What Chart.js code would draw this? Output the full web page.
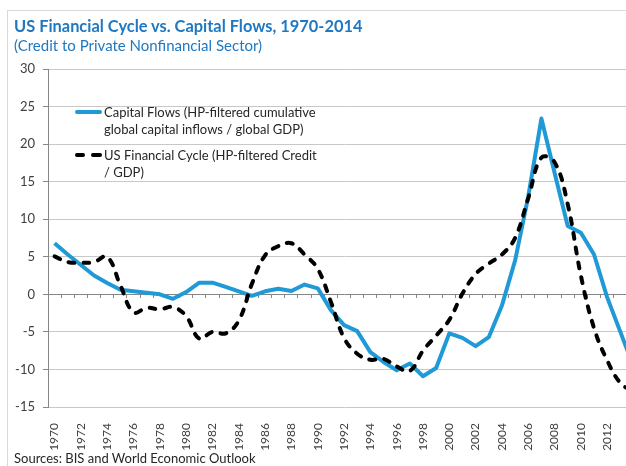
<!DOCTYPE html>
<html>
<head>
<meta charset="utf-8">
<script src="https://cdn.jsdelivr.net/npm/chart.js@4.4.1/dist/chart.umd.min.js"></script>
<style>
  html, body { margin: 0; padding: 0; width: 626px; height: 466px; overflow: hidden; background: #fff; font-family: Lato, "Liberation Sans", sans-serif; }
  #frame { position: absolute; left: 7px; top: 10px; width: 700px; height: 700px; border-left: 1px solid #d9d9d9; border-top: 1px solid #d9d9d9; }
  #chart { position: absolute; left: 0; top: 0; }
  .txt { position: absolute; white-space: nowrap; }
  #title { left: 14px; top: 16px; font-size: 16.4px; line-height: 20px; font-weight: bold; color: #1f78c1; }
  #subtitle { left: 14px; top: 36px; font-size: 15px; line-height: 19px; color: #1f78c1; }
  #source { left: 14px; top: 450px; font-size: 13px; line-height: 17px; color: #262626; }
  .leg { left: 104px; font-size: 13px; line-height: 17px; color: #262626; }
  .swatch { position: absolute; height: 4px; border-radius: 2px; }
</style>
</head>
<body>
<div id="frame"></div>
<canvas id="chart" width="656" height="466"></canvas>
<div id="title" class="txt">US Financial Cycle vs. Capital Flows, 1970-2014</div>
<div id="subtitle" class="txt">(Credit to Private Nonfinancial Sector)</div>
<div class="swatch" style="left:75px; top:110px; width:27px; background:#1f9ad7;"></div>
<div class="txt leg" style="top:104px;">Capital Flows (HP-filtered cumulative<br>global capital inflows / global GDP)</div>
<div class="swatch" style="left:75px; top:153px; width:10px; background:#000;"></div>
<div class="swatch" style="left:91px; top:153px; width:11px; background:#000;"></div>
<div class="txt leg" style="top:147px;">US Financial Cycle (HP-filtered Credit<br>/ GDP)</div>
<div id="source" class="txt">Sources: BIS and World Economic Outlook</div>
<script>
const years = ["1970","1971","1972","1973","1974","1975","1976","1977","1978","1979",
  "1980","1981","1982","1983","1984","1985","1986","1987","1988","1989",
  "1990","1991","1992","1993","1994","1995","1996","1997","1998","1999",
  "2000","2001","2002","2003","2004","2005","2006","2007","2008","2009",
  "2010","2011","2012","2013","2014"];

const capitalFlows = [6.8, 5.3, 3.9, 2.5, 1.5, 0.6, 0.4, 0.2, 0.0, -0.6,
  0.3, 1.55, 1.55, 1.0, 0.4, -0.2, 0.4, 0.75, 0.45, 1.3,
  0.8, -2.1, -4.1, -4.9, -7.7, -9.0, -10.1, -9.2, -10.9, -9.8,
  -5.2, -5.8, -6.9, -5.7, -1.5, 4.5, 13.0, 23.4, 16.2, 9.1,
  8.2, 5.3, -0.4, -5.0, -9.6];

const usFinancialCycle = [5.05, 4.3, 4.2, 4.3, 5.0, 1.2, -2.4, -1.8, -2.0, -1.7,
  -2.9, -5.9, -5.0, -5.2, -3.5, 1.4, 5.2, 6.4, 6.8, 5.3,
  3.4, -1.0, -5.8, -7.9, -8.7, -8.6, -9.6, -10.2, -7.5, -5.5,
  -3.4, 0.1, 2.7, 4.1, 5.3, 7.5, 12.8, 18.2, 17.6, 12.0,
  2.5, -4.5, -8.8, -11.8, -13.0];

const yMin = -15, yMax = 30, yStep = 5;

const blue = "#1f9ad7";
const axisGrey = "#868686";
const gridGrey = "#c8c8c8";
const labelColor = "#404040";

const ctx = document.getElementById("chart").getContext("2d");
const chart = new Chart(ctx, {
  type: "line",
  data: {
    labels: years,
    datasets: [{
      label: "US Financial Cycle (HP-filtered Credit / GDP)",
      data: usFinancialCycle,
      borderColor: "#000",
      borderWidth: 4,
      borderDash: [6, 9],
      borderCapStyle: "round",
      tension: 0.4,
      pointRadius: 0,
      fill: false,
      order: 0
    }, {
      label: "Capital Flows (HP-filtered cumulative global capital inflows / global GDP)",
      data: capitalFlows,
      borderColor: blue,
      borderWidth: 4,
      borderJoinStyle: "round",
      tension: 0,
      pointRadius: 0,
      fill: false,
      order: 1
    }]
  },
  options: {
    responsive: false,
    animation: false,
    devicePixelRatio: 1,
    layout: { padding: { top: 69, right: 9, bottom: 0, left: 0 } },
    plugins: {
      legend: { display: false },
      tooltip: { enabled: false }
    },
    scales: {
      x: {
        type: "category",
        offset: true,
        grid: { display: false },
        border: { display: false },
        ticks: {
          autoSkip: false,
          maxRotation: 90,
          minRotation: 90,
          padding: 8,
          color: labelColor,
          font: { family: "Lato", size: 12 },
          callback: function (v, i) {
            return i % 2 === 0 ? this.getLabelForValue(v) : "";
          }
        },
        afterFit: s => { s.height = 59; }
      },
      x2: {
        type: "category",
        axis: "x",
        offset: true,
        position: { y: 0 },
        grid: { drawOnChartArea: false, drawTicks: true, tickLength: 4, color: axisGrey, offset: true },
        border: { display: false },
        ticks: { display: false, autoSkip: false }
      },
      y: {
        min: yMin,
        max: yMax,
        ticks: {
          stepSize: yStep,
          padding: 8,
          color: labelColor,
          font: { family: "Lato", size: 13 }
        },
        grid: {
          color: c => (c.tick && c.tick.value === 0 ? axisGrey : gridGrey),
          tickColor: axisGrey,
          tickLength: 5
        },
        border: { display: true, color: axisGrey },
        afterFit: s => { s.width = 48; }
      }
    }
  }
});
</script>
</body>
</html>
